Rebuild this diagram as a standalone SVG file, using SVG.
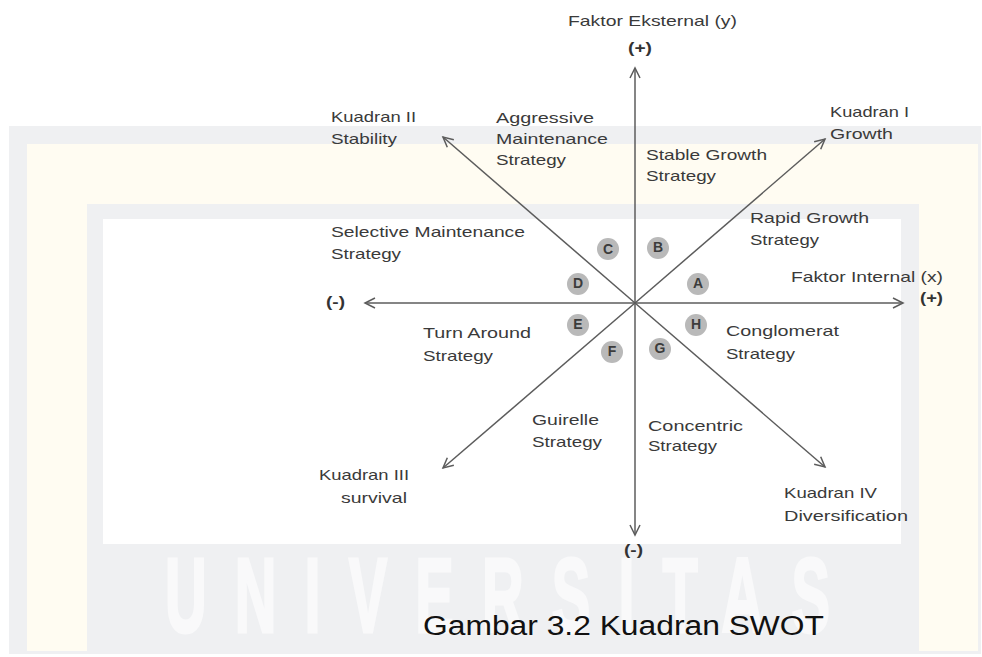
<svg xmlns="http://www.w3.org/2000/svg" width="982" height="657" viewBox="0 0 982 657">
  <style>
    .lbl { font-family: "Liberation Sans", Arial, sans-serif; font-size: 15px; fill: #3a3a3a; }
    .sign { font-family: "Liberation Sans", Arial, sans-serif; font-size: 14px; font-weight: bold; fill: #333333; }
    .axis { stroke: #5c5c5c; stroke-width: 1.5; fill: none; }
    .dot { fill: #b9b9b9; }
    .dotlbl { font-family: "Liberation Sans", Arial, sans-serif; font-size: 14px; font-weight: bold; fill: #3c3c3c; text-anchor: middle; }
    .caption { font-family: "Liberation Sans", Arial, sans-serif; font-size: 27px; fill: #111111; }
    .mark { font-family: "Liberation Sans", Arial, sans-serif; font-size: 105px; font-weight: bold; fill: #f9f9fa; stroke: #f9f9fa; stroke-width: 3; }
  </style>
  <defs>
    <marker id="head" markerUnits="userSpaceOnUse" markerWidth="14" markerHeight="14" refX="11" refY="6" orient="auto-start-reverse">
      <path d="M1,1 L11,6 L1,11" fill="none" stroke="#5c5c5c" stroke-width="1.5"/>
    </marker>
    <filter id="soft" x="-20%" y="-20%" width="140%" height="140%">
      <feGaussianBlur stdDeviation="0.6"/>
    </filter>
  </defs>

  <!-- page background and frame bands -->
  <rect x="0" y="0" width="982" height="657" fill="#ffffff"/>
  <rect x="9" y="126" width="972" height="528" fill="#eff0f2"/>
  <rect x="27" y="144" width="951" height="507" fill="#fffcf2"/>
  <rect x="87" y="204" width="832" height="447" fill="#eff0f2"/>
  <rect x="103" y="219" width="798" height="325" fill="#ffffff"/>
  <text class="mark" transform="translate(165,632) scale(0.55,1)" textLength="1209" lengthAdjust="spacing">UNIVERSITAS</text>

  <!-- axes and diagonals -->
  <g id="connectors">
    <line class="axis" x1="635" y1="535" x2="635" y2="68" marker-start="url(#head)" marker-end="url(#head)"/>
    <line class="axis" x1="365" y1="303" x2="903" y2="303" marker-start="url(#head)" marker-end="url(#head)"/>
    <line class="axis" x1="635" y1="303" x2="825" y2="139" marker-end="url(#head)"/>
    <line class="axis" x1="635" y1="303" x2="443" y2="137" marker-end="url(#head)"/>
    <line class="axis" x1="635" y1="303" x2="443" y2="468" marker-end="url(#head)"/>
    <line class="axis" x1="635" y1="303" x2="825" y2="467" marker-end="url(#head)"/>
  </g>

  <!-- axis captions -->
  <g id="axis-y">
    <text class="lbl" x="568" y="26" textLength="169" lengthAdjust="spacingAndGlyphs">Faktor Eksternal (y)</text>
    <text class="sign" x="628" y="53" textLength="24" lengthAdjust="spacingAndGlyphs">(+)</text>
    <text class="sign" x="624" y="555" textLength="19" lengthAdjust="spacingAndGlyphs">(-)</text>
  </g>
  <g id="axis-x">
    <text class="lbl" x="791" y="282" textLength="152" lengthAdjust="spacingAndGlyphs">Faktor Internal (x)</text>
    <text class="sign" x="920" y="303" textLength="23" lengthAdjust="spacingAndGlyphs">(+)</text>
    <text class="sign" x="326" y="307" textLength="19" lengthAdjust="spacingAndGlyphs">(-)</text>
  </g>

  <!-- quadrant names -->
  <g id="kuadran-1">
    <text class="lbl" x="830" y="117" textLength="79" lengthAdjust="spacingAndGlyphs">Kuadran I</text>
    <text class="lbl" x="830" y="139" textLength="63" lengthAdjust="spacingAndGlyphs">Growth</text>
  </g>
  <g id="kuadran-2">
    <text class="lbl" x="331" y="122" textLength="85" lengthAdjust="spacingAndGlyphs">Kuadran II</text>
    <text class="lbl" x="331" y="144" textLength="66" lengthAdjust="spacingAndGlyphs">Stability</text>
  </g>
  <g id="kuadran-3">
    <text class="lbl" x="319" y="480" textLength="90" lengthAdjust="spacingAndGlyphs">Kuadran III</text>
    <text class="lbl" x="341" y="503" textLength="66" lengthAdjust="spacingAndGlyphs">survival</text>
  </g>
  <g id="kuadran-4">
    <text class="lbl" x="784" y="498" textLength="93" lengthAdjust="spacingAndGlyphs">Kuadran IV</text>
    <text class="lbl" x="784" y="521" textLength="124" lengthAdjust="spacingAndGlyphs">Diversification</text>
  </g>

  <!-- strategy labels -->
  <g id="aggressive-maintenance">
    <text class="lbl" x="496" y="123" textLength="98" lengthAdjust="spacingAndGlyphs">Aggressive</text>
    <text class="lbl" x="496" y="144" textLength="112" lengthAdjust="spacingAndGlyphs">Maintenance</text>
    <text class="lbl" x="496" y="165" textLength="70" lengthAdjust="spacingAndGlyphs">Strategy</text>
  </g>
  <g id="stable-growth">
    <text class="lbl" x="646" y="160" textLength="121" lengthAdjust="spacingAndGlyphs">Stable Growth</text>
    <text class="lbl" x="646" y="181" textLength="70" lengthAdjust="spacingAndGlyphs">Strategy</text>
  </g>
  <g id="rapid-growth">
    <text class="lbl" x="750" y="223" textLength="119" lengthAdjust="spacingAndGlyphs">Rapid Growth</text>
    <text class="lbl" x="750" y="245" textLength="69" lengthAdjust="spacingAndGlyphs">Strategy</text>
  </g>
  <g id="selective-maintenance">
    <text class="lbl" x="331" y="237" textLength="194" lengthAdjust="spacingAndGlyphs">Selective Maintenance</text>
    <text class="lbl" x="331" y="259" textLength="70" lengthAdjust="spacingAndGlyphs">Strategy</text>
  </g>
  <g id="turn-around">
    <text class="lbl" x="423" y="338" textLength="108" lengthAdjust="spacingAndGlyphs">Turn Around</text>
    <text class="lbl" x="423" y="361" textLength="70" lengthAdjust="spacingAndGlyphs">Strategy</text>
  </g>
  <g id="conglomerat">
    <text class="lbl" x="726" y="336" textLength="113" lengthAdjust="spacingAndGlyphs">Conglomerat</text>
    <text class="lbl" x="726" y="359" textLength="69" lengthAdjust="spacingAndGlyphs">Strategy</text>
  </g>
  <g id="guirelle">
    <text class="lbl" x="532" y="425" textLength="67" lengthAdjust="spacingAndGlyphs">Guirelle</text>
    <text class="lbl" x="532" y="447" textLength="70" lengthAdjust="spacingAndGlyphs">Strategy</text>
  </g>
  <g id="concentric">
    <text class="lbl" x="648" y="431" textLength="95" lengthAdjust="spacingAndGlyphs">Concentric</text>
    <text class="lbl" x="648" y="451" textLength="69" lengthAdjust="spacingAndGlyphs">Strategy</text>
  </g>

  <!-- lettered position markers -->
  <g id="pos-A"><circle class="dot" cx="698" cy="284" r="11" filter="url(#soft)"/><text class="dotlbl" x="698" y="288">A</text></g>
  <g id="pos-B"><circle class="dot" cx="658" cy="248" r="11" filter="url(#soft)"/><text class="dotlbl" x="658" y="252">B</text></g>
  <g id="pos-C"><circle class="dot" cx="608" cy="249" r="11" filter="url(#soft)"/><text class="dotlbl" x="608" y="254">C</text></g>
  <g id="pos-D"><circle class="dot" cx="578" cy="284" r="11" filter="url(#soft)"/><text class="dotlbl" x="578" y="288">D</text></g>
  <g id="pos-E"><circle class="dot" cx="578" cy="325" r="11" filter="url(#soft)"/><text class="dotlbl" x="578" y="329">E</text></g>
  <g id="pos-F"><circle class="dot" cx="612" cy="352" r="11" filter="url(#soft)"/><text class="dotlbl" x="612" y="356">F</text></g>
  <g id="pos-G"><circle class="dot" cx="660" cy="349" r="11" filter="url(#soft)"/><text class="dotlbl" x="660" y="353">G</text></g>
  <g id="pos-H"><circle class="dot" cx="696" cy="325" r="11" filter="url(#soft)"/><text class="dotlbl" x="696" y="329">H</text></g>

  <!-- figure caption -->
  <text class="caption" x="423" y="635" textLength="401" lengthAdjust="spacingAndGlyphs">Gambar 3.2 Kuadran SWOT</text>
</svg>
